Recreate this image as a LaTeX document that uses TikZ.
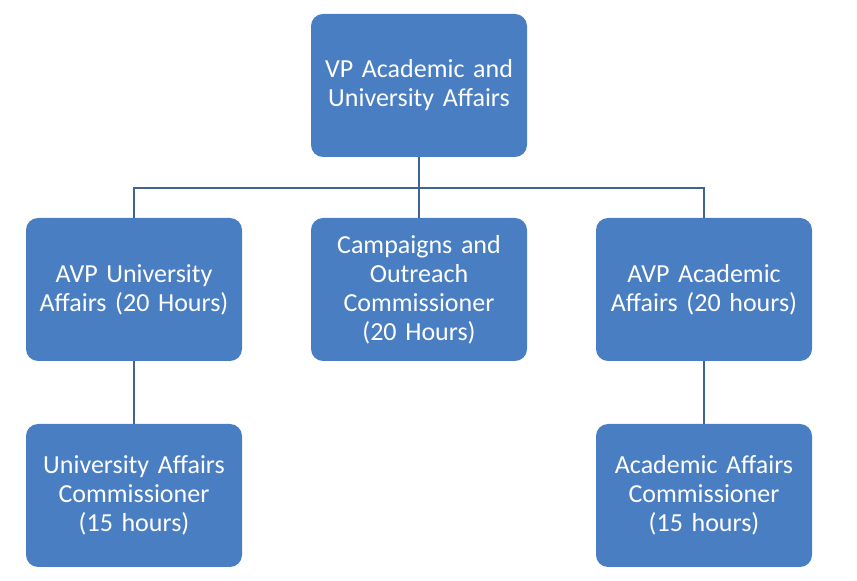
\documentclass[tikz,border=0pt]{standalone}
\usepackage{fontspec}
\setmainfont{Carlito}
\usepackage{xcolor}
\usepackage{tikz}
\usetikzlibrary{calc,positioning}
\definecolor{boxblue}{HTML}{4A7EC2}
\definecolor{lineblue}{HTML}{3E6494}
\tikzset{
  role/.style={fill=boxblue, draw=none, rounded corners=12pt, minimum width=216pt,
    minimum height=143pt, text=white, align=center, text width=205pt,
    font=\fontsize{26}{29}\selectfont},
  link/.style={draw=lineblue, line width=2.4pt}
}
\begin{document}
\begin{tikzpicture}[x=1pt,y=1pt]
  \useasboundingbox (0,0) rectangle (857,581);
  % top
  \node[role] (vp) at (419,495.5) {VP Academic and\\University Affairs};
  % second row
  \node[role] (avpu) at (134,291.5) {AVP University\\Affairs (20 Hours)};
  \node[role] (camp) at (419,291.5) {Campaigns and\\Outreach\\Commissioner\\(20 Hours)};
  \node[role] (avpa) at (704,291.5) {AVP Academic\\Affairs (20 hours)};
  % third row
  \node[role] (uac) at (134,85.5) {University Affairs\\Commissioner\\(15 hours)};
  \node[role] (aac) at (704,85.5) {Academic Affairs\\Commissioner\\(15 hours)};

  % connectors
  \coordinate (bus) at (419,393);
  \draw[link] (vp.south) -- (bus);
  \draw[link] (avpu.north) |- (bus) -| (avpa.north);
  \draw[link] (bus) -- (camp.north);
  \draw[link] (avpu.south) -- (uac.north);
  \draw[link] (avpa.south) -- (aac.north);
\end{tikzpicture}
\end{document}
